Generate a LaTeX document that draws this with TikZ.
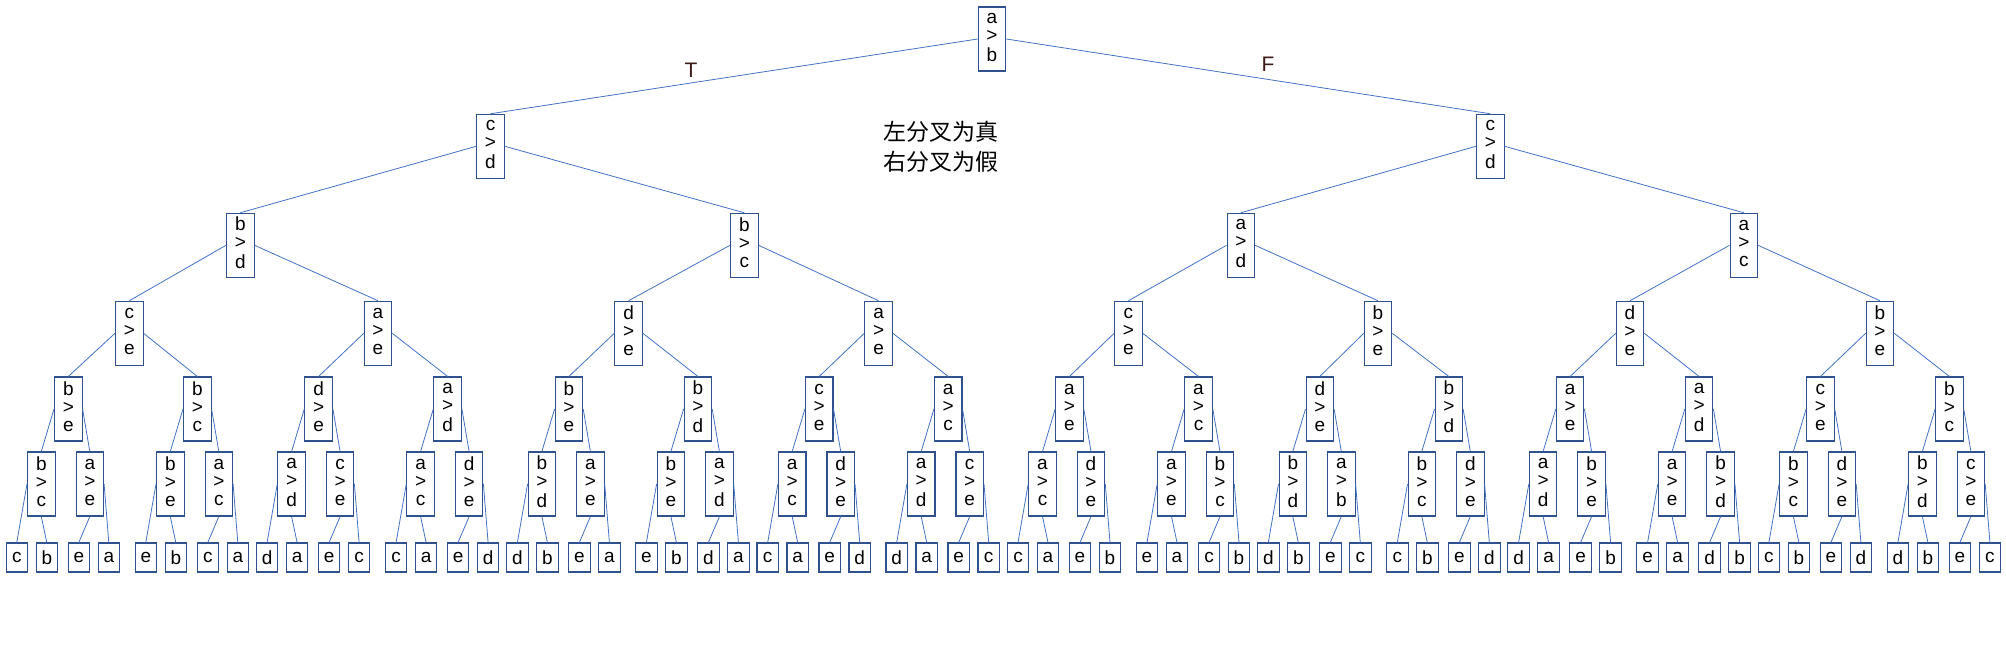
\documentclass[tikz,border=0pt]{standalone}
\usepackage{fontspec}
\setmainfont{Liberation Sans}
\newfontfamily\cjk{Noto Sans CJK SC}
\definecolor{boxc}{HTML}{2F528F}
\definecolor{linec}{HTML}{4472C4}
\definecolor{tfc}{HTML}{3C1A1A}
\newcommand\cmpt[2]{\strut#1\\\strut>\\\strut#2}
\begin{document}
\begin{tikzpicture}[x=1pt,y=-1pt,
  cmp/.style={draw=boxc, line width=1.1pt, minimum width=27.5pt, minimum height=64pt, inner sep=0pt, align=center, font=\fontsize{19}{18}\selectfont},
  leaf/.style={draw=boxc, line width=1.1pt, minimum width=21.5pt, minimum height=29pt, inner sep=0pt, font=\fontsize{19}{18}\selectfont},
  edge/.style={draw=linec, line width=0.8pt},
  tf/.style={text=tfc, font=\fontsize{21}{22}\selectfont}]
\fill[white] (0,0) rectangle (2006,648);
\useasboundingbox (0,0) rectangle (2006,648);
% level 0
\node[cmp] (n0) at (992,39) {\cmpt{a}{b}};
% level 1
\foreach \p/\q/\x [count=\i from 0] in {c/d/490.5, c/d/1490.3}
  \node[cmp] (n1-\i) at (\x,146.3) {\cmpt{\p}{\q}};
% level 2
\foreach \p/\q/\x [count=\i from 0] in {b/d/240.3, b/c/744.3, a/d/1240.8, a/c/1743.8}
  \node[cmp] (n2-\i) at (\x,245.3) {\cmpt{\p}{\q}};
% level 3
\foreach \p/\q/\x [count=\i from 0] in {c/e/129.3, a/e/378, d/e/628.6, a/e/878.6, c/e/1128.4, b/e/1378, d/e/1630, b/e/1880}
  \node[cmp] (n3-\i) at (\x,333.3) {\cmpt{\p}{\q}};
% level 4
\foreach \p/\q [count=\i from 0] in {b/e,b/c, d/e,a/d, b/e,b/d, c/e,a/c, a/e,a/c, d/e,b/d, a/e,a/d, c/e,b/c}{
  \pgfmathsetmacro\gg{int(\i/2)}
  \pgfmathsetmacro\off{mod(\i,2)==0 ? 62.3 : 191.3}
  \pgfmathsetmacro\xx{6+250.3*\gg+\off}
  \node[cmp] (n4-\i) at (\xx,409) {\cmpt{\p}{\q}};
}
% level 5
\foreach \p/\q [count=\i from 0] in {b/c,a/e,b/e,a/c, a/d,c/e,a/c,d/e, b/d,a/e,b/e,a/d, a/c,d/e,a/d,c/e, a/c,d/e,a/e,b/c, b/d,a/b,b/c,d/e, a/d,b/e,a/e,b/d, b/c,d/e,b/d,c/e}{
  \pgfmathsetmacro\gg{int(\i/4)}
  \pgfmathsetmacro\k{int(mod(\i,4))}
  \pgfmathsetmacro\off{\k==0 ? 35.3 : (\k==1 ? 83.8 : (\k==2 ? 164.3 : 212.8))}
  \pgfmathsetmacro\xx{6+250.3*\gg+\off}
  \node[cmp] (n5-\i) at (\xx,484) {\cmpt{\p}{\q}};
}
% leaves
\foreach \t [count=\i from 0] in {c,b,e,a,e,b,c,a, d,a,e,c,c,a,e,d, d,b,e,a,e,b,d,a, c,a,e,d,d,a,e,c, c,a,e,b,e,a,c,b, d,b,e,c,c,b,e,d, d,a,e,b,e,a,d,b, c,b,e,d,d,b,e,c}{
  \pgfmathsetmacro\gg{int(\i/8)}
  \pgfmathsetmacro\k{int(mod(\i,8))}
  \pgfmathsetmacro\off{{10.8,40.8,72.8,102.8,139.8,169.8,201.8,231.8}[\k]}
  \pgfmathsetmacro\xx{6+250.3*\gg+\off}
  \node[leaf] (l-\i) at (\xx,557.5) {\t};
}
% edges: levels 0..4 from west/east to north
\draw[edge] (n0.west) -- (n1-0.north);
\draw[edge] (n0.east) -- (n1-1.north);
\foreach \i in {0,1}{
  \pgfmathtruncatemacro\a{2*\i}\pgfmathtruncatemacro\b{2*\i+1}
  \draw[edge] (n1-\i.west) -- (n2-\a.north);
  \draw[edge] (n1-\i.east) -- (n2-\b.north);
}
\foreach \i in {0,...,3}{
  \pgfmathtruncatemacro\a{2*\i}\pgfmathtruncatemacro\b{2*\i+1}
  \draw[edge] (n2-\i.west) -- (n3-\a.north);
  \draw[edge] (n2-\i.east) -- (n3-\b.north);
}
\foreach \i in {0,...,7}{
  \pgfmathtruncatemacro\a{2*\i}\pgfmathtruncatemacro\b{2*\i+1}
  \draw[edge] (n3-\i.west) -- (n4-\a.north);
  \draw[edge] (n3-\i.east) -- (n4-\b.north);
}
\foreach \i in {0,...,15}{
  \pgfmathtruncatemacro\a{2*\i}\pgfmathtruncatemacro\b{2*\i+1}
  \draw[edge] (n4-\i.west) -- (n5-\a.north);
  \draw[edge] (n4-\i.east) -- (n5-\b.north);
}
% level 5 to leaves
\foreach \i in {0,...,31}{
  \pgfmathtruncatemacro\a{2*\i}\pgfmathtruncatemacro\b{2*\i+1}
  \pgfmathtruncatemacro\m{mod(\i,2)}
  \ifnum\m=0
    \draw[edge] (n5-\i.west) -- (l-\a.north);
    \draw[edge] (n5-\i.south) -- (l-\b.north);
  \else
    \draw[edge] (n5-\i.south) -- (l-\a.north);
    \draw[edge] (n5-\i.east) -- (l-\b.north);
  \fi
}
% labels
\node[tf] (tlab) at (691,70) {T};
\node[tf] (flab) at (1268,64) {F};
\node[align=center, font=\cjk\fontsize{23}{29.5}\selectfont] (note) at (941,147) {左分叉为真\\右分叉为假};
\end{tikzpicture}
\end{document}
